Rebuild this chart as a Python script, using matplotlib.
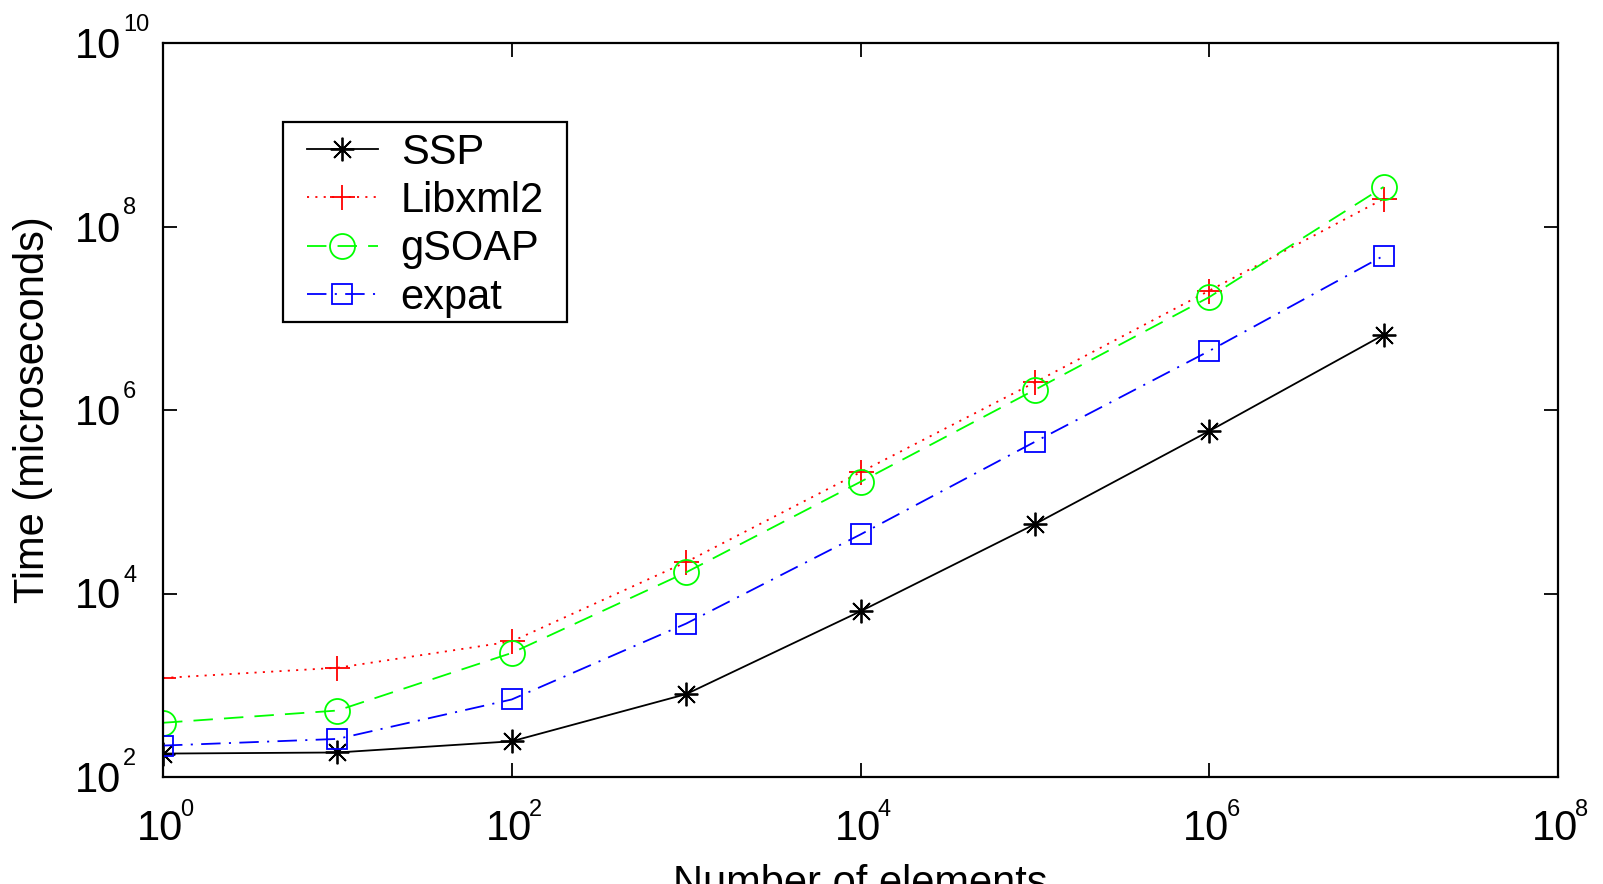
import matplotlib
matplotlib.use("Agg")
import matplotlib.pyplot as plt
from matplotlib.ticker import FixedLocator, NullLocator
from matplotlib.patches import Rectangle

plt.rcParams['font.family'] = ['Liberation Sans', 'DejaVu Sans']
plt.rcParams['lines.scale_dashes'] = False

elements = [1, 10, 100, 1e3, 1e4, 1e5, 1e6, 1e7]
ssp = [180, 185, 245, 800, 6400, 57000, 5.9e5, 6.6e6]
libxml2 = [1200, 1550, 3000, 22000, 2.1e5, 2.0e6, 2.0e7, 2.0e8]
gsoap = [390, 530, 2250, 17000, 1.65e5, 1.66e6, 1.7e7, 2.7e8]
expat = [220, 260, 700, 4700, 44000, 4.5e5, 4.4e6, 4.8e7]

xticks = [1, 1e2, 1e4, 1e6, 1e8]
xexp = ['0', '2', '4', '6', '8']
yticks = [1e2, 1e4, 1e6, 1e8, 1e10]
yexp = ['2', '4', '6', '8', '10']

fig = plt.figure(figsize=(16.03, 8.84), dpi=100)
W, H = 1603, 884
L, R, T, B = 163, 1558, 43, 777
PX = 0.72  # points per pixel at 100 dpi
ax = fig.add_axes([L / W, 1 - B / H, (R - L) / W, (B - T) / H])

lw = 1.3
ax.plot(elements, ssp, color='black', linestyle='-', lw=lw, marker=(8, 2, 0),
        markersize=17, markeredgewidth=1.3, label='SSP')
ax.plot(elements, libxml2, color='red', lw=lw, dashes=(1.5, 4.5), marker='+',
        markersize=18, markeredgewidth=1.3, label='Libxml2')
ax.plot(elements, gsoap, color=(0, 1, 0), lw=lw, dashes=(14, 8), marker='o',
        markersize=18, markerfacecolor='none', markeredgewidth=1.3, label='gSOAP')
ax.plot(elements, expat, color='blue', lw=lw, dashes=(14, 6, 1.5, 6), marker='s',
        markersize=14, markerfacecolor='none', markeredgewidth=1.3, label='expat')

ax.set_xscale('log')
ax.set_yscale('log')
ax.set_xlim(1, 1e8)
ax.set_ylim(1e2, 1e10)
ax.xaxis.set_major_locator(FixedLocator(xticks))
ax.yaxis.set_major_locator(FixedLocator(yticks))
ax.xaxis.set_minor_locator(NullLocator())
ax.yaxis.set_minor_locator(NullLocator())
ax.tick_params(direction='in', length=10, width=1.3, top=True, right=True,
               labelbottom=False, labelleft=False)
for s in ax.spines.values():
    s.set_linewidth(1.6)

# MATLAB-style tick labels: base "10" with a small exponent
for t, e in zip(xticks, xexp):
    ax.annotate('10', xy=(t, 0), xycoords=('data', 'axes fraction'),
                xytext=(-3 * PX, -63 * PX), textcoords='offset points',
                ha='center', va='baseline', fontsize=30, annotation_clip=False)
    ax.annotate(e, xy=(t, 0), xycoords=('data', 'axes fraction'),
                xytext=(17 * PX, -39 * PX), textcoords='offset points',
                ha='left', va='baseline', fontsize=17, annotation_clip=False)
for t, e in zip(yticks, yexp):
    ax.annotate('10', xy=(0, t), xycoords=('axes fraction', 'data'),
                xytext=(-42 * PX, -15 * PX), textcoords='offset points',
                ha='right', va='baseline', fontsize=30, annotation_clip=False)
    ax.annotate(e, xy=(0, t), xycoords=('axes fraction', 'data'),
                xytext=(-40 * PX, 12 * PX), textcoords='offset points',
                ha='left', va='baseline', fontsize=17, annotation_clip=False)

ax.set_ylabel('Time (microseconds)', fontsize=30)
ax.set_xlabel('Number of elements', fontsize=30)
ax.yaxis.set_label_coords((53 - L) / (R - L), 0.5)
ax.xaxis.set_label_coords(0.5, (B - 864) / (B - T))

# legend box
box = Rectangle((283 / W, 1 - 322 / H), (567 - 283) / W, (322 - 122) / H,
                transform=fig.transFigure, facecolor='white', edgecolor='black',
                linewidth=1.6, zorder=4, clip_on=False)
ax.add_patch(box)
leg = ax.legend(loc='center left',
                bbox_to_anchor=((307 - L) / (R - L), 1 - (225 - T) / (B - T)),
                fontsize=30, frameon=False,
                handlelength=1.7, handletextpad=0.55, borderpad=0.0, labelspacing=0.2,
                borderaxespad=0)
leg.set_zorder(5)

fig.savefig('out.png', dpi=100)
